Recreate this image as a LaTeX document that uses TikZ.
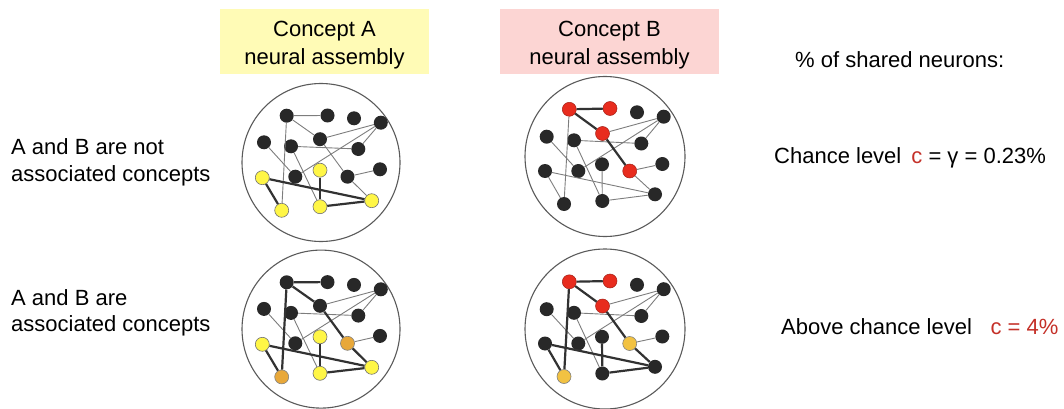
\documentclass[tikz,border=0pt]{standalone}
\usepackage{fontspec}
\setmainfont{Liberation Sans}
\usetikzlibrary{calc}
\definecolor{boxyel}{RGB}{255,251,182}
\definecolor{boxpink}{RGB}{252,213,211}
\definecolor{nblack}{RGB}{40,40,40}
\definecolor{nyel}{RGB}{255,246,70}
\definecolor{nred}{RGB}{232,44,30}
\definecolor{norgA}{RGB}{232,168,58}
\definecolor{norgB}{RGB}{242,194,66}
\definecolor{cred}{RGB}{196,48,40}
\definecolor{thinc}{RGB}{125,125,125}
\definecolor{thickc}{RGB}{50,50,50}
\definecolor{ringc}{RGB}{90,90,90}
\begin{document}
\begin{tikzpicture}[x=1pt,y=-1pt,
  dot/.style={circle,minimum size=14pt,inner sep=0pt},
  blk/.style={fill=nblack},
  yel/.style={fill=nyel,draw=black!55,line width=0.6pt},
  rd/.style={fill=nred,draw=nred!70!black,line width=0.5pt},
  orA/.style={fill=norgA,draw=black!50,line width=0.6pt},
  orB/.style={fill=norgB,draw=black!50,line width=0.6pt},
  ln/.style={draw=thinc,line width=0.9pt},
  tk/.style={draw=thickc,line width=2.2pt},
  ring/.style={circle,draw=ringc,line width=1.1pt,inner sep=0pt},
  lbl/.style={anchor=base west,inner sep=0pt,font=\fontsize{22}{27}\selectfont},
  hdr/.style={minimum height=65pt,inner sep=0pt,align=center,font=\fontsize{22}{28}\selectfont}
]
\useasboundingbox (0,0) rectangle (1064,409);

% headers
\node[hdr,fill=boxyel,minimum width=209pt] (hdrA) at (324.5,41.7) {\rule{0pt}{21.7pt}Concept A\\neural assembly};
\node[hdr,fill=boxpink,minimum width=219pt] (hdrB) at (609.5,41.7) {\rule{0pt}{21.7pt}Concept B\\neural assembly};

% left labels
\node[lbl] (l1a) at (11,154) {A and B are not};
\node[lbl] (l1b) at (11,181.7) {associated concepts};
\node[lbl] (l2a) at (11,305) {A and B are};
\node[lbl] (l2b) at (11,331.7) {associated concepts};

% right labels
\node[lbl] (shared) at (795,68) {\% of shared neurons:};
\node[lbl] (chance) at (774,163) {Chance level\hspace{10pt}\textcolor{cred}{c} = γ = 0.23\%};
\node[lbl] (above) at (781,334) {Above chance level\hspace{18.6pt}\textcolor{cred}{c = 4\%}};

% rings
\node[ring,minimum size=158pt] (ringTA) at (321,162.5) {};
\node[ring,minimum size=158pt] (ringBA) at (321,329.1) {};
\node[ring,minimum size=160pt] (ringTB) at (605,156.5) {};
\node[ring,minimum size=160pt] (ringBB) at (605,329) {};

% layouts
\foreach \n/\x/\y in {1/286.7/115.7,2/327.5/115.5,3/354/118.3,4/380.8/122.7,5/264/142.3,6/291/146.3,7/320/139.2,8/358.3/149,9/295.3/176.7,10/347.5/176.7,11/380/169.3,12/262.3/177.7,13/320/170.2,14/281.7/210.3,15/320/206.7,16/371.7/200.7}
  \coordinate (LA\n) at (\x,\y);
\foreach \n/\x/\y in {1/569.3/109.3,2/610/108.5,3/637/112.3,4/663.7/116.7,5/546.7/136.7,6/574/140.3,7/602.5/133.5,8/641.3/143.5,9/578.3/171,10/629.7/171,11/662.3/164,12/545/171,13/602/164.3,14/564/204,15/602.3/201,16/655/194.3}
  \coordinate (LB\n) at (\x,\y);

% nodes
\foreach \n/\s in {1/blk,2/blk,3/blk,4/blk,5/blk,6/blk,7/blk,8/blk,9/blk,10/blk,11/blk,12/yel,13/yel,14/yel,15/yel,16/yel}
  \node[dot,\s] (TA\n) at (LA\n) {};
\foreach \n/\s in {1/blk,2/blk,3/blk,4/blk,5/blk,6/blk,7/blk,8/blk,9/blk,10/orA,11/blk,12/yel,13/yel,14/orA,15/yel,16/yel}
  \node[dot,\s] (BA\n) at ($(LA\n)+(0,166.6)$) {};
\foreach \n/\s in {1/rd,2/rd,3/blk,4/blk,5/blk,6/blk,7/rd,8/blk,9/blk,10/rd,11/blk,12/blk,13/blk,14/blk,15/blk,16/blk}
  \node[dot,\s] (TB\n) at (LB\n) {};
\foreach \n/\s in {1/rd,2/rd,3/blk,4/blk,5/blk,6/blk,7/rd,8/blk,9/blk,10/orB,11/blk,12/blk,13/blk,14/orB,15/blk,16/blk}
  \node[dot,\s] (BB\n) at ($(LB\n)+(0,172.5)$) {};

% edges common thin
\foreach \p in {TA,BA,TB,BB}
  \foreach \a/\b in {7/4,4/9,4/8,6/8,5/9,6/15,10/11}
    \draw[ln] (\p\a) -- (\p\b);
% top A
\foreach \a/\b in {1/2,1/7,1/14,7/10,10/16}
  \draw[ln] (TA\a) -- (TA\b);
\foreach \a/\b in {12/14,12/16,13/15,15/16}
  \draw[tk] (TA\a) -- (TA\b);
% top B
\foreach \a/\b in {1/14,10/16,12/14,12/16,13/15,15/16}
  \draw[ln] (TB\a) -- (TB\b);
\foreach \a/\b in {1/2,1/7,7/10}
  \draw[tk] (TB\a) -- (TB\b);
% bottom
\foreach \p in {BA,BB}
  \foreach \a/\b in {1/2,1/7,1/14,7/10,10/16,12/14,12/16,13/15,15/16}
    \draw[tk] (\p\a) -- (\p\b);
\end{tikzpicture}
\end{document}
